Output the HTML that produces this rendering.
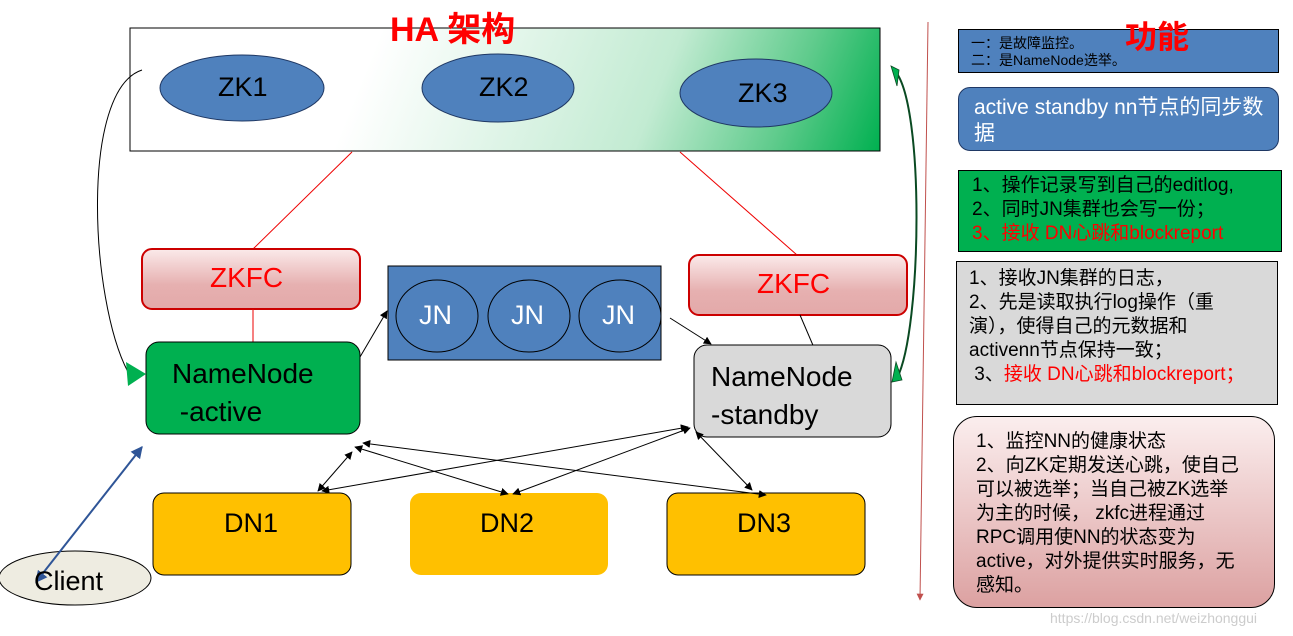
<!DOCTYPE html>
<html><head><meta charset="utf-8"><style>
html,body{margin:0;padding:0;background:#fff;}
body{width:1293px;height:636px;position:relative;overflow:hidden;font-family:"Liberation Sans","Noto Sans CJK SC",sans-serif;}
.t{position:absolute;white-space:nowrap;}
.box{position:absolute;box-sizing:border-box;font-family:"Liberation Sans","Noto Sans CJK SC",sans-serif;}
.red{color:#ff0000}
</style></head><body>
<svg width="1293" height="636" style="position:absolute;left:0;top:0">
<defs>
<linearGradient id="g1" gradientUnits="userSpaceOnUse" x1="390" y1="10" x2="860" y2="200">
<stop offset="0" stop-color="#fff"/>
<stop offset="0.55" stop-color="#c2ebd2"/>
<stop offset="0.8" stop-color="#5fcb8c"/>
<stop offset="1" stop-color="#00b050"/>
</linearGradient>
<linearGradient id="pk" x1="0" y1="0" x2="0" y2="1">
<stop offset="0" stop-color="#fbeaea"/><stop offset="0.6" stop-color="#e6b0b0"/><stop offset="1" stop-color="#e3a9a9"/>
</linearGradient>
<marker id="ah" viewBox="0 0 10 10" refX="9" refY="5" markerWidth="8" markerHeight="8" orient="auto-start-reverse"><path d="M0,0L10,5L0,10z" fill="#000"/></marker>
<marker id="ab" viewBox="0 0 10 10" refX="9" refY="5" markerWidth="6" markerHeight="6" orient="auto-start-reverse"><path d="M0,0L10,5L0,10z" fill="#2f5597"/></marker>
<marker id="ar" viewBox="0 0 10 10" refX="9" refY="5" markerWidth="7" markerHeight="7" orient="auto"><path d="M0,0L10,5L0,10z" fill="#c0504d"/></marker>
</defs>
<rect x="130" y="28" width="750" height="123" fill="url(#g1)" stroke="#000" stroke-width="1"/>
<ellipse cx="242" cy="88" rx="82" ry="33" fill="#4f81bd" stroke="#1f3864"/>
<ellipse cx="498" cy="88" rx="76" ry="34" fill="#4f81bd" stroke="#1f3864"/>
<ellipse cx="756" cy="93" rx="76" ry="34" fill="#4f81bd" stroke="#1f3864"/>
<line x1="352" y1="152" x2="253" y2="249" stroke="#e00" stroke-width="1"/>
<line x1="680" y1="152" x2="797" y2="255" stroke="#e00" stroke-width="1"/>
<rect x="142" y="249" width="218" height="60" rx="10" fill="url(#pk)" stroke="#c00" stroke-width="2"/>
<rect x="689" y="255" width="218" height="60" rx="10" fill="url(#pk)" stroke="#c00" stroke-width="2"/>
<line x1="253" y1="309" x2="253" y2="342" stroke="#e00"/>
<line x1="800" y1="315" x2="815" y2="350" stroke="#000"/>
<rect x="146" y="342" width="214" height="92" rx="13" fill="#00b050" stroke="#000"/>
<rect x="388" y="266" width="273" height="94" fill="#4f81bd" stroke="#000"/>
<ellipse cx="437" cy="316" rx="41" ry="36" fill="#4f81bd" stroke="#000"/>
<ellipse cx="529" cy="316" rx="41" ry="36" fill="#4f81bd" stroke="#000"/>
<ellipse cx="620" cy="316" rx="41" ry="36" fill="#4f81bd" stroke="#000"/>
<rect x="694" y="345" width="197" height="92" rx="13" fill="#d9d9d9" stroke="#000"/>
<rect x="153" y="493" width="198" height="82" rx="11" fill="#ffc000" stroke="#000"/>
<rect x="410" y="493" width="198" height="82" rx="11" fill="#ffc000"/>
<rect x="667" y="493" width="198" height="82" rx="11" fill="#ffc000" stroke="#000"/>
<ellipse cx="75" cy="578" rx="76" ry="27" fill="#eeece1" stroke="#000"/>
<line x1="360" y1="357" x2="387" y2="311" stroke="#000" marker-end="url(#ah)"/>
<line x1="670" y1="318" x2="711" y2="344" stroke="#000" marker-end="url(#ah)"/>
<line x1="352" y1="452" x2="318" y2="491" stroke="#000" marker-start="url(#ah)" marker-end="url(#ah)"/>
<line x1="355" y1="447" x2="508" y2="494" stroke="#000" marker-start="url(#ah)" marker-end="url(#ah)"/>
<line x1="363" y1="443" x2="766" y2="495" stroke="#000" marker-start="url(#ah)" marker-end="url(#ah)"/>
<line x1="688" y1="427" x2="322" y2="491" stroke="#000" marker-start="url(#ah)" marker-end="url(#ah)"/>
<line x1="690" y1="428" x2="513" y2="494" stroke="#000" marker-start="url(#ah)" marker-end="url(#ah)"/>
<line x1="696" y1="432" x2="752" y2="490" stroke="#000" marker-start="url(#ah)" marker-end="url(#ah)"/>
<line x1="36" y1="582" x2="142" y2="447" stroke="#2f5597" stroke-width="2" marker-start="url(#ab)" marker-end="url(#ab)"/>
<path d="M142,70 C80,90 90,300 128,372" fill="none" stroke="#000"/>
<path d="M126,362 L146,374 L128,386 z" fill="#00b050"/>
<path d="M894,70 C925,100 922,330 897,378" fill="none" stroke="#0a4a22" stroke-width="2"/>
<path d="M891,66 L899,70 L897,86 z M896,362 L902,380 L892,382 z" fill="#00b050" stroke="#0a4a22" stroke-width="0.8"/>
<line x1="928" y1="22" x2="920" y2="600" stroke="#c0504d" marker-end="url(#ar)"/>
</svg>
<div class="t red" style="left:390px;top:2px;font-size:34px;font-weight:bold;">HA 架构</div>
<div class="t" style="left:218px;top:72px;font-size:27px;">ZK1</div>
<div class="t" style="left:479px;top:72px;font-size:27px;">ZK2</div>
<div class="t" style="left:738px;top:78px;font-size:27px;">ZK3</div>
<div class="t red" style="left:210px;top:262px;font-size:28px;">ZKFC</div>
<div class="t red" style="left:757px;top:268px;font-size:28px;">ZKFC</div>
<div class="t" style="left:419px;top:300px;font-size:27px;color:#fff">JN</div>
<div class="t" style="left:511px;top:300px;font-size:27px;color:#fff">JN</div>
<div class="t" style="left:602px;top:300px;font-size:27px;color:#fff">JN</div>
<div class="t" style="left:172px;top:355px;font-size:28px;line-height:38px;">NameNode<br>&nbsp;-active</div>
<div class="t" style="left:711px;top:358px;font-size:28px;line-height:38px;">NameNode<br>-standby</div>
<div class="t" style="left:224px;top:508px;font-size:27px;">DN1</div>
<div class="t" style="left:480px;top:508px;font-size:27px;">DN2</div>
<div class="t" style="left:737px;top:508px;font-size:27px;">DN3</div>
<div class="t" style="left:34px;top:566px;font-size:27px;">Client</div>
<div class="box" style="left:958px;top:29px;width:321px;height:44px;background:#4f81bd;border:1px solid #000;font-size:14px;line-height:17px;padding:5px 0 0 12px;">一：是故障监控。<br>二：是NameNode选举。</div>
<div class="t red" style="left:1125px;top:12px;font-size:32px;font-weight:bold;">功能</div>
<div class="box" style="left:958px;top:87px;width:321px;height:64px;background:#4f81bd;border:1px solid #1f3864;border-radius:12px;color:#fff;font-size:21px;line-height:26px;padding:7px 0 0 15px;">active standby nn节点的同步数<br>据</div>
<div class="box" style="left:958px;top:170px;width:324px;height:82px;background:#00b050;border:1px solid #000;font-size:19px;line-height:24px;padding:3px 0 0 13px;">1、操作记录写到自己的editlog,<br>2、同时JN集群也会写一份；<br><span class="red">3、接收 DN心跳和blockreport</span></div>
<div class="box" style="left:956px;top:261px;width:322px;height:144px;background:#d9d9d9;border:1px solid #000;font-size:19px;line-height:24px;padding:5px 0 0 12px;">1、接收JN集群的日志，<br>2、先是读取执行log操作（重<br>演），使得自己的元数据和<br>activenn节点保持一致；<br>&nbsp;3、<span class="red">接收 DN心跳和blockreport；</span></div>
<div class="box" style="left:953px;top:416px;width:322px;height:192px;background:linear-gradient(#fbeeee,#dca1a1);border:1px solid #000;border-radius:24px;font-size:19px;line-height:24px;padding:13px 0 0 22px;">1、监控NN的健康状态<br>2、向ZK定期发送心跳，使自己<br>可以被选举；当自己被ZK选举<br>为主的时候， zkfc进程通过<br>RPC调用使NN的状态变为<br>active，对外提供实时服务，无<br>感知。</div>
<div class="t" style="left:1050px;top:610px;font-size:14px;color:#ccc;">https://blog.csdn.net/weizhonggui</div>
</body></html>
